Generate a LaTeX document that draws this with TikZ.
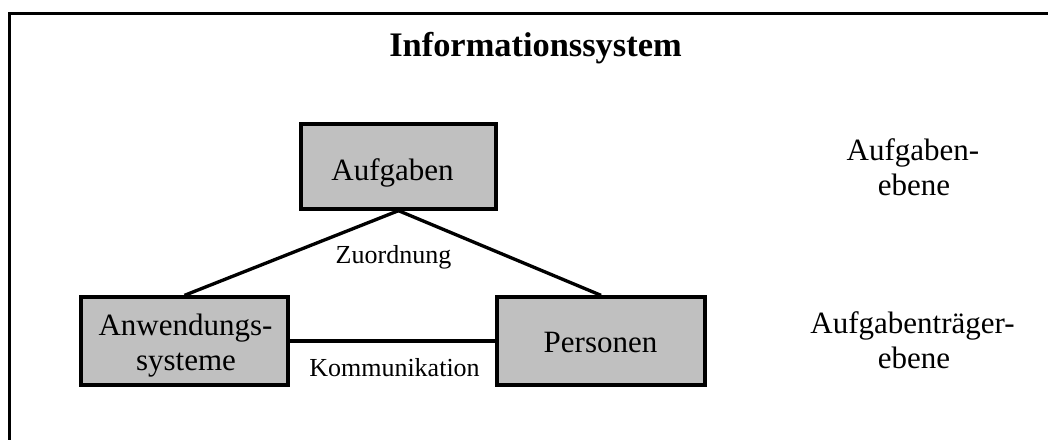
\documentclass[tikz,border=0pt]{standalone}
\usepackage{fontspec}
\setmainfont{Liberation Serif}
\begin{document}
\begin{tikzpicture}[x=0.75pt,y=-0.75pt,
  frame/.style={line width=2.8pt},
  block/.style={draw,line width=2.5pt,fill=boxgrey,inner sep=0pt},
  blocktext/.style={font=\fontsize{23.25}{26.25}\selectfont,anchor=base,inner sep=0pt,align=center},
  linktext/.style={font=\fontsize{19.5}{22}\selectfont,anchor=base,inner sep=0pt},
  leveltext/.style={font=\fontsize{23.25}{26.25}\selectfont,anchor=base,inner sep=0pt},
  link/.style={line width=2.5pt}]
\definecolor{boxgrey}{HTML}{C0C0C0}
\useasboundingbox (0,0) rectangle (1048,439);

% outer frame, open to the right and bottom
\coordinate (fbl) at (9.5,445);
\coordinate (ftl) at (9.5,13.5);
\coordinate (ftr) at (1055,13.5);
\draw[frame] (fbl) -- (ftl) -- (ftr);

% title
\node[font=\bfseries\fontsize{25.8}{29}\selectfont,anchor=base,inner sep=0pt] (title) at (535.5,56) {Informationssystem};

% blocks
\node[block,minimum width=146.25pt,minimum height=63.75pt] (aufg) at (398.5,166.5) {};
\node[block,minimum width=155.25pt,minimum height=66pt] (anw) at (184.5,341) {};
\node[block,minimum width=156pt,minimum height=66pt] (pers) at (601,341) {};

\node[blocktext] (aufgT) at (392.5,180.7) {Aufgaben};
\node[blocktext] (anwT1) at (185.5,335) {Anwendungs-};
\node[blocktext] (anwT2) at (186,370) {systeme};
\node[blocktext] (persT) at (600.5,352.7) {Personen};

% connectors
\draw[link] (aufg.south) -- (anw.north);
\draw[link] (aufg.south) -- (pers.north);
\draw[link] (anw.east) -- (pers.west);

% connector labels
\node[linktext] (zuord) at (393.5,263) {Zuordnung};
\node[linktext] (komm) at (394.5,376.5) {Kommunikation};

% level labels
\node[leveltext] (lev1a) at (913,160) {Aufgaben-};
\node[leveltext] (lev1b) at (914,195) {ebene};
\node[leveltext] (lev2a) at (912.5,333) {Aufgabenträger-};
\node[leveltext] (lev2b) at (914,368) {ebene};
\end{tikzpicture}
\end{document}
